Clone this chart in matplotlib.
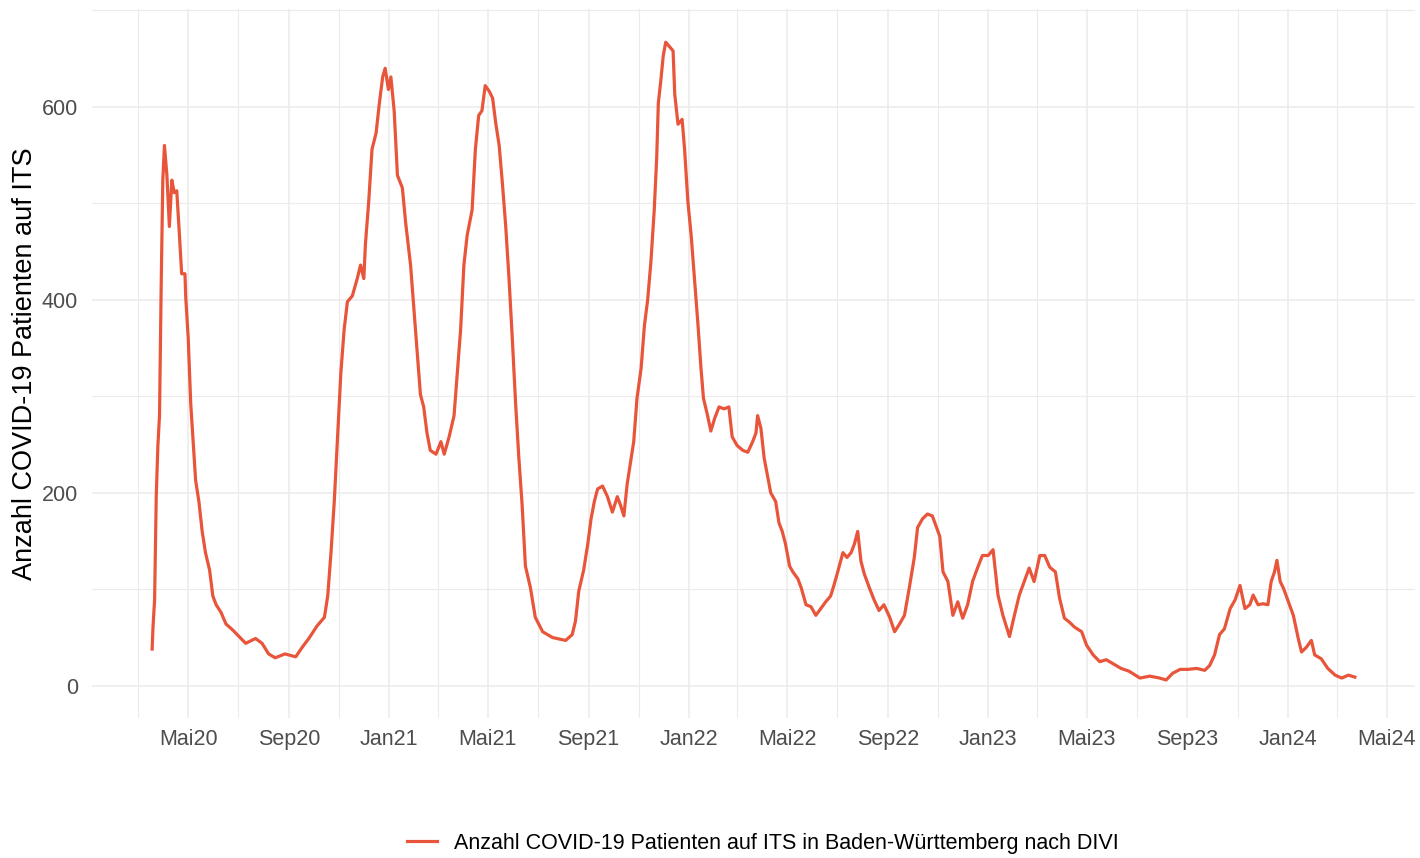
import matplotlib
matplotlib.use("Agg")
import matplotlib.pyplot as plt
import matplotlib.dates as mdates
from matplotlib.ticker import FixedLocator, FuncFormatter
import pandas as pd

dates = [
    "2020-03-18", "2020-03-19", "2020-03-21", "2020-03-23", "2020-03-25", "2020-03-27",
    "2020-03-29", "2020-03-31", "2020-04-02", "2020-04-05", "2020-04-08", "2020-04-11",
    "2020-04-14", "2020-04-17", "2020-04-20", "2020-04-23", "2020-04-27", "2020-04-28",
    "2020-05-01", "2020-05-04", "2020-05-07", "2020-05-10", "2020-05-14", "2020-05-18",
    "2020-05-22", "2020-05-27", "2020-05-31", "2020-06-04", "2020-06-10", "2020-06-16",
    "2020-06-24", "2020-07-02", "2020-07-10", "2020-07-22", "2020-07-30", "2020-08-07",
    "2020-08-15", "2020-08-27", "2020-09-09", "2020-09-17", "2020-09-25", "2020-10-05",
    "2020-10-14", "2020-10-18", "2020-10-22", "2020-10-26", "2020-10-30", "2020-11-03",
    "2020-11-07", "2020-11-11", "2020-11-17", "2020-11-23", "2020-11-27", "2020-12-01",
    "2020-12-03", "2020-12-07", "2020-12-11", "2020-12-16", "2020-12-20", "2020-12-24",
    "2020-12-27", "2020-12-31", "2021-01-03", "2021-01-07", "2021-01-11", "2021-01-17",
    "2021-01-21", "2021-01-27", "2021-01-31", "2021-02-04", "2021-02-08", "2021-02-12",
    "2021-02-16", "2021-02-20", "2021-02-27", "2021-03-05", "2021-03-09", "2021-03-15",
    "2021-03-21", "2021-03-25", "2021-03-29", "2021-04-02", "2021-04-06", "2021-04-12",
    "2021-04-16", "2021-04-20", "2021-04-24", "2021-04-28", "2021-05-03", "2021-05-07",
    "2021-05-11", "2021-05-15", "2021-05-19", "2021-05-23", "2021-05-27", "2021-05-31",
    "2021-06-04", "2021-06-08", "2021-06-12", "2021-06-16", "2021-06-22", "2021-06-28",
    "2021-07-07", "2021-07-19", "2021-08-04", "2021-08-12", "2021-08-16", "2021-08-20",
    "2021-08-26", "2021-08-31", "2021-09-04", "2021-09-08", "2021-09-12", "2021-09-18",
    "2021-09-24", "2021-09-30", "2021-10-06", "2021-10-10", "2021-10-14", "2021-10-18",
    "2021-10-22", "2021-10-26", "2021-10-30", "2021-11-04", "2021-11-08", "2021-11-12",
    "2021-11-16", "2021-11-20", "2021-11-23", "2021-11-25", "2021-11-28", "2021-12-01",
    "2021-12-04", "2021-12-09", "2021-12-13", "2021-12-15", "2021-12-19", "2021-12-24",
    "2021-12-27", "2021-12-31", "2022-01-04", "2022-01-08", "2022-01-12", "2022-01-16",
    "2022-01-19", "2022-01-24", "2022-01-28", "2022-02-02", "2022-02-07", "2022-02-13",
    "2022-02-19", "2022-02-23", "2022-03-01", "2022-03-08", "2022-03-14", "2022-03-20",
    "2022-03-24", "2022-03-26", "2022-03-30", "2022-04-03", "2022-04-07", "2022-04-11",
    "2022-04-17", "2022-04-21", "2022-04-25", "2022-04-29", "2022-05-04", "2022-05-08",
    "2022-05-14", "2022-05-18", "2022-05-24", "2022-05-30", "2022-06-05", "2022-06-11",
    "2022-06-17", "2022-06-23", "2022-06-27", "2022-07-01", "2022-07-08", "2022-07-13",
    "2022-07-18", "2022-07-22", "2022-07-26", "2022-07-30", "2022-08-03", "2022-08-09",
    "2022-08-15", "2022-08-21", "2022-08-27", "2022-09-03", "2022-09-09", "2022-09-15",
    "2022-09-21", "2022-09-27", "2022-10-03", "2022-10-07", "2022-10-13", "2022-10-19",
    "2022-10-25", "2022-11-03", "2022-11-07", "2022-11-13", "2022-11-19", "2022-11-25",
    "2022-12-01", "2022-12-07", "2022-12-13", "2022-12-19", "2022-12-25", "2023-01-01",
    "2023-01-07", "2023-01-13", "2023-01-19", "2023-01-27", "2023-02-02", "2023-02-08",
    "2023-02-14", "2023-02-20", "2023-02-26", "2023-03-05", "2023-03-11", "2023-03-17",
    "2023-03-24", "2023-03-29", "2023-04-04", "2023-04-10", "2023-04-16", "2023-04-25",
    "2023-05-01", "2023-05-09", "2023-05-17", "2023-05-25", "2023-06-02", "2023-06-12",
    "2023-06-22", "2023-07-05", "2023-07-17", "2023-07-29", "2023-08-06", "2023-08-14",
    "2023-08-23", "2023-09-02", "2023-09-12", "2023-09-22", "2023-09-28", "2023-10-04",
    "2023-10-10", "2023-10-16", "2023-10-23", "2023-10-29", "2023-11-04", "2023-11-10",
    "2023-11-16", "2023-11-20", "2023-11-26", "2023-12-02", "2023-12-08", "2023-12-12",
    "2023-12-16", "2023-12-19", "2023-12-23", "2023-12-27", "2024-01-02", "2024-01-08",
    "2024-01-14", "2024-01-18", "2024-01-24", "2024-01-30", "2024-02-03", "2024-02-11",
    "2024-02-19", "2024-02-28", "2024-03-07", "2024-03-15", "2024-03-23",
]
patients = [
    38, 60, 89, 196, 249, 280,
    413, 524, 560, 529, 476, 524,
    511, 513, 471, 427, 427, 402,
    360, 293, 253, 213, 191, 160,
    138, 120, 93, 84, 76, 64,
    58, 51, 44, 49, 44, 33,
    29, 33, 30, 40, 49, 62,
    71, 93, 138, 191, 258, 324,
    369, 398, 404, 422, 436, 422,
    458, 502, 556, 573, 604, 631,
    640, 618, 631, 596, 529, 516,
    480, 436, 391, 347, 302, 289,
    262, 244, 240, 253, 240, 258,
    280, 324, 369, 436, 467, 493,
    556, 591, 596, 622, 616, 609,
    582, 560, 520, 476, 422, 360,
    293, 236, 187, 124, 102, 71,
    56, 50, 47, 53, 67, 98,
    120, 147, 173, 191, 204, 207,
    196, 180, 196, 187, 176, 209,
    231, 253, 298, 329, 373, 400,
    440, 493, 547, 604, 627, 653,
    667, 662, 658, 613, 582, 587,
    556, 502, 467, 422, 378, 329,
    298, 280, 264, 278, 289, 287,
    289, 258, 249, 244, 242, 253,
    262, 280, 267, 236, 218, 200,
    191, 169, 160, 147, 124, 118,
    111, 102, 84, 82, 73, 80,
    87, 93, 104, 116, 138, 133,
    138, 147, 160, 129, 116, 102,
    89, 78, 84, 71, 56, 64,
    73, 102, 133, 164, 173, 178,
    176, 155, 118, 108, 73, 87,
    70, 84, 108, 122, 135, 135,
    141, 94, 73, 51, 73, 94,
    108, 122, 108, 135, 135, 123,
    118, 91, 70, 66, 61, 56,
    42, 32, 25, 27, 23, 18,
    15, 8, 10, 8, 6, 13,
    17, 17, 18, 16, 21, 32,
    53, 59, 80, 89, 104, 80,
    84, 94, 84, 85, 84, 108,
    118, 130, 108, 101, 87, 73,
    49, 35, 40, 47, 32, 28,
    18, 11, 8, 11, 9,
]

series_label = "Anzahl COVID-19 Patienten auf ITS in Baden-Württemberg nach DIVI"
y_label = "Anzahl COVID-19 Patienten auf ITS"
month_names = {1: "Jan", 5: "Mai", 9: "Sep"}
y_major = [0, 200, 400, 600]
y_minor = [100, 300, 500, 700]

plt.rcParams['font.family'] = ['Liberation Sans', 'DejaVu Sans']

x = pd.to_datetime(dates)

fig = plt.figure(figsize=(14.2, 8.58), dpi=100)
ax = fig.add_axes([92 / 1420, 1 - 718 / 858, (1415 - 92) / 1420, (718 - 9) / 858])
ax.plot(x, patients, color="#E8553A", lw=2.3, label=series_label)

# ggplot style 5% expansion on both axes
pad = (x.max() - x.min()) * 0.05
ax.set_xlim(x.min() - pad, x.max() + pad)
ax.set_ylim(-33.4, 701.4)

ax.xaxis.set_major_locator(mdates.MonthLocator(bymonth=[1, 5, 9]))
ax.xaxis.set_minor_locator(mdates.MonthLocator(bymonth=[3, 7, 11]))
ax.xaxis.set_major_formatter(FuncFormatter(
    lambda v, pos: month_names[mdates.num2date(v).month] + mdates.num2date(v).strftime("%y")))
ax.yaxis.set_major_locator(FixedLocator(y_major))
ax.yaxis.set_minor_locator(FixedLocator(y_minor))

ax.grid(which='major', color='#EBEBEB', lw=1.1)
ax.grid(which='minor', color='#EBEBEB', lw=0.8)
ax.set_axisbelow(True)
for s in ax.spines.values():
    s.set_visible(False)

ax.tick_params(which='both', length=0, labelsize=15.5, labelcolor='#4D4D4D')
ax.tick_params(axis='x', pad=8)
ax.tick_params(axis='y', pad=10)

ax.set_ylabel(y_label, fontsize=19.5, color='black')
ax.yaxis.set_label_coords(-0.041, 0.5)

fig.legend(loc='center', bbox_to_anchor=(763 / 1420, 1 - 843 / 858), frameon=False,
           fontsize=15.5, handlelength=1.4, handletextpad=0.8)

fig.savefig("out.png", dpi=100)
plt.close()
